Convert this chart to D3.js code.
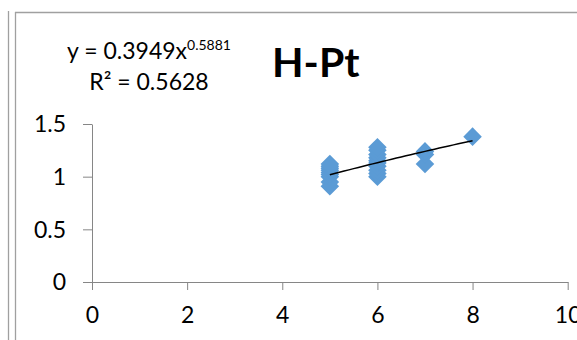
<!DOCTYPE html>
<html>
<head>
<meta charset="utf-8">
<script src="https://cdn.jsdelivr.net/npm/d3@7"></script>
<style>
  html, body { margin: 0; padding: 0; background: #fff; }
  svg { display: block; }
  text { font-family: Lato, "Open Sans", sans-serif; fill: #000; }
</style>
</head>
<body>
<div id="chart"></div>
<script>
// data
const xTicks = [0, 2, 4, 6, 8, 10]
const yTicks = [0, 0.5, 1, 1.5]
const xValues = [5, 5, 5, 5, 5, 5, 5, 5, 5,
                 6, 6, 6, 6, 6, 6, 6, 6, 6, 6,
                 7, 7, 7,
                 8]
const yValues = [0.91, 0.95, 1.0, 1.02, 1.04, 1.06, 1.08, 1.1, 1.12,
                 1.0, 1.03, 1.06, 1.1, 1.13, 1.15, 1.18, 1.21, 1.25, 1.28,
                 1.12, 1.21, 1.24,
                 1.38]
// power trendline, as printed on the chart
const trendCoef = 0.3949
const trendExp = 0.5881
const trendR2 = 0.5628
const trendRange = [5, 8]
const title = 'H-Pt'

const width = 577, height = 340
const margin = { top: 124, right: 9.3, bottom: 58, left: 92 }

const svg = d3.select('#chart')
    .append('svg')
    .attr('width', width)
    .attr('height', height)

// window frame lines
const frame = svg.append('g')
    .attr('stroke', '#a0a0a0')
    .attr('stroke-width', 1.3)
frame.append('line').attr('x1', 8.5).attr('x2', 8.5).attr('y1', 11).attr('y2', height)
frame.append('line').attr('x1', 15.5).attr('x2', 15.5).attr('y1', 12).attr('y2', height)
frame.append('line').attr('x1', 15).attr('x2', width).attr('y1', 12.5).attr('y2', 12.5)

let x = d3.scaleLinear().domain([0, 10]).range([margin.left, width - margin.right])
let y = d3.scaleLinear().domain([0, 1.5]).range([height - margin.bottom, margin.top])

const xAxis = svg.append('g')
    .attr('transform', 'translate(0,' + y(0) + ')')
    .call(d3.axisBottom(x).tickValues(xTicks).tickSize(8).tickSizeOuter(0).tickFormat(d3.format('d')))
xAxis.selectAll('.domain, .tick line').attr('stroke', '#868686')
xAxis.selectAll('.tick text')
    .attr('y', 41)
    .attr('dy', 0)
    .style('font-size', '23px')
    .style('font-family', 'Lato')

const yAxis = svg.append('g')
    .attr('transform', 'translate(' + x(0) + ',0)')
    .call(d3.axisLeft(y).tickValues(yTicks).tickSize(9).tickSizeOuter(0).tickFormat(d => String(d)))
yAxis.selectAll('.domain, .tick line').attr('stroke', '#868686')
yAxis.selectAll('.tick text')
    .attr('x', -26)
    .attr('dy', '0.34em')
    .style('font-size', '23px')
    .style('font-family', 'Lato')

// markers
const diamond = d3.symbol().type(d3.symbolSquare).size(172)
svg.append('g')
    .selectAll('path')
    .data(xValues.map((d, i) => [d, yValues[i]]))
    .join('path')
    .attr('d', diamond)
    .attr('transform', d => 'translate(' + x(d[0]) + ',' + y(d[1]) + ') rotate(45)')
    .attr('fill', '#5b9bd5')

// trendline
const trendX = d3.range(trendRange[0], trendRange[1] + 0.001, 0.1)
const line = d3.line()
    .x(d => x(d))
    .y(d => y(trendCoef * Math.pow(d, trendExp)))
svg.append('path')
    .datum(trendX)
    .attr('fill', 'none')
    .attr('stroke', '#000')
    .attr('stroke-width', 1.5)
    .attr('d', line)

// equation label
const eq = svg.append('text')
    .attr('x', 149)
    .attr('y', 59)
    .attr('text-anchor', 'middle')
    .style('font-size', '23px')
eq.append('tspan').text('y = ' + trendCoef + 'x')
eq.append('tspan').attr('dy', -9).style('font-size', '14px').text(trendExp)

svg.append('text')
    .attr('x', 149)
    .attr('y', 90)
    .attr('text-anchor', 'middle')
    .style('font-size', '23px')
    .text('R² = ' + trendR2)

svg.append('text')
    .attr('x', 272)
    .attr('y', 77)
    .style('font-size', '41px')
    .style('font-weight', 'bold')
    .text(title)
</script>
</body>
</html>
